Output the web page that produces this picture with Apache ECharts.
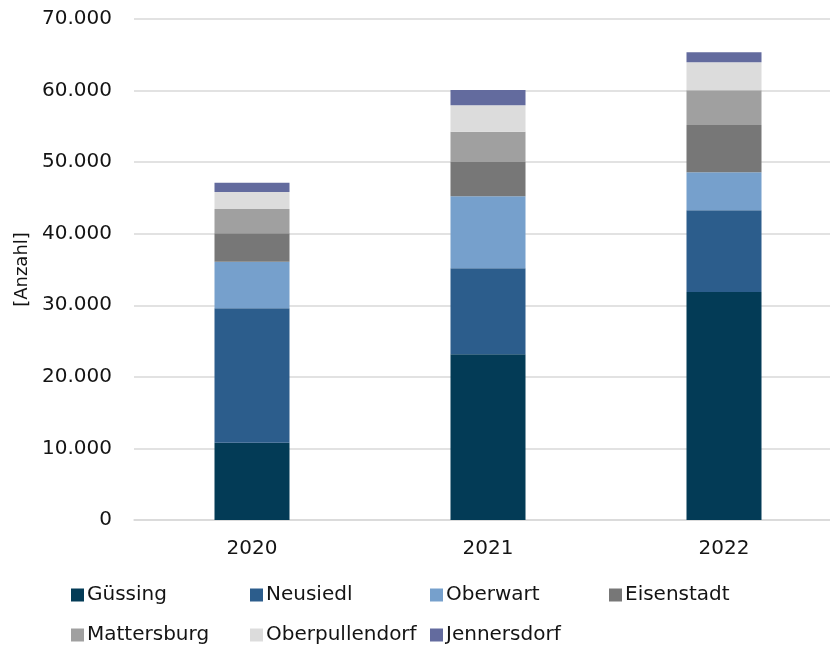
<!DOCTYPE html>
<html>
<head>
<meta charset="utf-8">
<script src="https://cdn.jsdelivr.net/npm/echarts@6/dist/echarts.min.js"></script>
<style>html,body{margin:0;padding:0;background:#fff;overflow:hidden}#c{width:842px;height:646px}</style>
</head>
<body>
<div id="c"></div>
<script>
const categories = ['2020', '2021', '2022'];
const seriesNames = ['Güssing', 'Neusiedl', 'Oberwart', 'Eisenstadt', 'Mattersburg', 'Oberpullendorf', 'Jennersdorf'];
const guessing = [10800, 23150, 31860];
const neusiedl = [18780, 12020, 11410];
const oberwart = [6510, 10060, 5310];
const eisenstadt = [3970, 4790, 6610];
const mattersburg = [3390, 4240, 4850];
const oberpullendorf = [2380, 3680, 3910];
const jennersdorf = [1300, 2140, 1400];
const yTicks = [0, 10000, 20000, 30000, 40000, 50000, 60000, 70000];

const seriesData = [guessing, neusiedl, oberwart, eisenstadt, mattersburg, oberpullendorf, jennersdorf];
const colors = ['#033b56', '#2c5d8c', '#76a0cc', '#777777', '#a0a0a0', '#dcdcdc', '#636b9e'];
const FONT = 'DejaVu Sans';
const TXT = '#141414';

const legendPos = [
  [71, 585], [250, 585], [430, 585], [609, 585],
  [71, 625], [250, 625], [430, 625]
];

const chart = echarts.init(document.getElementById('c'), null, {renderer: 'canvas'});
const fmt = v => String(v).replace(/\B(?=(\d{3})+(?!\d))/g, '.');

chart.setOption({
  animation: false,
  color: colors,
  textStyle: {fontFamily: FONT},
  grid: {left: 134, top: 19, right: 0, height: 501, containLabel: false},
  legend: seriesNames.map((n, i) => ({
    data: [n], left: legendPos[i][0], top: legendPos[i][1],
    itemWidth: 13, itemHeight: 13, itemGap: 0, padding: 0,
    icon: 'rect',
    textStyle: {fontFamily: FONT, fontSize: 20, color: TXT, padding: [0, 0, 0, -2]}
  })),
  xAxis: {
    type: 'category', data: categories,
    axisLine: {lineStyle: {color: '#d9d9d9', width: 1.5}},
    axisTick: {show: false},
    axisLabel: {fontFamily: FONT, fontSize: 20, color: TXT, margin: 19}
  },
  yAxis: {
    type: 'value', min: yTicks[0], max: yTicks[yTicks.length - 1], interval: yTicks[1] - yTicks[0],
    name: '[Anzahl]', nameLocation: 'middle', nameGap: 102, nameRotate: 90,
    nameTextStyle: {fontFamily: FONT, fontSize: 18, color: TXT},
    axisLine: {show: false}, axisTick: {show: false},
    splitLine: {lineStyle: {color: '#d9d9d9', width: 1.5}},
    axisLabel: {fontFamily: FONT, fontSize: 20, color: TXT, margin: 22, formatter: fmt}
  },
  series: seriesNames.map((n, i) => ({
    name: n, type: 'bar', stack: 'total', barWidth: 75,
    data: seriesData[i],
    itemStyle: {color: colors[i]}
  }))
});
</script>
</body>
</html>
